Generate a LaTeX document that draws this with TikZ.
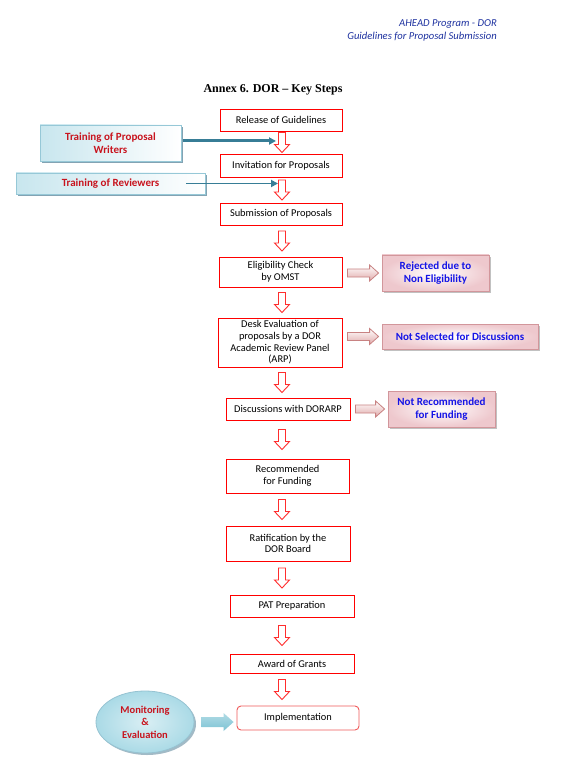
\documentclass[tikz,border=0pt]{standalone}
\usepackage{fontspec}
\setmainfont{Carlito}
\newfontfamily\titlefont{Liberation Serif}
\usetikzlibrary{calc,shapes.geometric,shadows,arrows.meta}

\begin{document}
\begin{tikzpicture}[x=1pt,y=-1pt,line join=miter,
    stepbox/.style={draw=boxred,line width=0.9pt,fill=white,inner sep=1pt,
      align=center,font=\fontsize{10.4}{11.6}\selectfont},
    trainbox/.style={draw=trainborder,line width=0.8pt,left color=trainfill,right color=white,
      drop shadow={shadow xshift=2pt,shadow yshift=-2pt,fill=trainshadow,opacity=0.8},
      inner sep=1pt,align=center,text=txtred,font=\fontsize{11}{13}\selectfont\bfseries},
    rejectbox/.style={draw=rejborder,line width=0.8pt,inner color=white,outer color=rejfill,
      drop shadow={shadow xshift=2pt,shadow yshift=-2pt,fill=gray!60,opacity=0.8},
      inner sep=1pt,align=center,text=txtblue,font=\fontsize{11}{13}\selectfont\bfseries},
    hollowarrow/.style={draw=arrowred,line width=0.9pt,fill=white},
    sidearrow/.style={draw=sidedark,line width=0.8pt,top color=white,bottom color=sidefill},
    feedarrow/.style={draw=feedteal,-{Triangle[length=7pt,width=7pt]}}]
  \definecolor{boxred}{RGB}{255,0,0}
  \definecolor{arrowred}{RGB}{255,45,45}
  \definecolor{implred}{RGB}{240,90,90}
  \definecolor{trainfill}{RGB}{200,230,238}
  \definecolor{trainborder}{RGB}{150,200,215}
  \definecolor{trainshadow}{RGB}{100,140,160}
  \definecolor{txtred}{RGB}{200,20,30}
  \definecolor{rejfill}{RGB}{238,200,205}
  \definecolor{rejborder}{RGB}{210,150,155}
  \definecolor{txtblue}{RGB}{20,20,230}
  \definecolor{feedteal}{RGB}{55,125,150}
  \definecolor{sidefill}{RGB}{225,170,170}
  \definecolor{sidedark}{RGB}{200,130,130}
  \definecolor{cyanarrow}{RGB}{125,195,212}
  \definecolor{ellfill}{RGB}{170,218,230}
  \definecolor{ellborder}{RGB}{150,195,210}
  \definecolor{hdrblue}{RGB}{30,50,160}

  % page
  \fill[white] (0,0) rectangle (562,775);
  \useasboundingbox (0,0) rectangle (562,775);

  % header and title
  \node[anchor=east,inner sep=0,text=hdrblue,font=\fontsize{10.6}{12}\selectfont\itshape] (hdra) at (497,24) {AHEAD Program - DOR};
  \node[anchor=east,inner sep=0,text=hdrblue,font=\fontsize{10.6}{12}\selectfont\itshape] (hdrb) at (497,37) {Guidelines for Proposal Submission};
  \node[inner sep=0,font=\titlefont\fontsize{12}{14}\selectfont\bfseries] (title) at (273,90) {Annex 6. DOR – Key Steps};

  % main steps
  \coordinate (axis) at (282,0);
  \node[stepbox,minimum width=122,minimum height=22] (rel) at (281,120) {Release of Guidelines};
  \node[stepbox,minimum width=122,minimum height=23] (inv) at (281,165.5) {Invitation for Proposals};
  \node[stepbox,minimum width=122,minimum height=22] (sub) at (281,214) {Submission of Proposals};
  \node[stepbox,minimum width=123,minimum height=30] (elig) at (280.5,272) {Eligibility Check\\by OMST};
  \node[stepbox,minimum width=124,minimum height=49] (desk) at (280,342.5) {Desk Evaluation of\\proposals by a DOR\\Academic Review Panel\\(ARP)};
  \node[stepbox,minimum width=124,minimum height=22] (disc) at (288,409) {Discussions with DORARP};
  \node[stepbox,minimum width=123,minimum height=34] (rec) at (287.5,476) {Recommended\\for Funding};
  \node[stepbox,minimum width=124,minimum height=35] (rat) at (288,543.5) {Ratification by the\\DOR Board};
  \node[stepbox,minimum width=124,minimum height=22] (pat) at (292,606) {PAT Preparation};
  \node[stepbox,minimum width=124,minimum height=19] (award) at (292,663.5) {Award of Grants};
  \node[stepbox,draw=implred,rounded corners=4pt,minimum width=122,minimum height=24] (impl) at (298,718) {Implementation};

  % training boxes (left)
  \node[trainbox,minimum width=141,minimum height=36] (writers) at (110.5,143) {Training of Proposal\\Writers};
  \node[trainbox,minimum width=189,minimum height=21] (rev) at (110.5,183.5) {Training of Reviewers};

  % outcome boxes (right)
  \node[rejectbox,minimum width=107,minimum height=36] (rej) at (435.5,273) {Rejected due to\\Non Eligibility};
  \node[rejectbox,minimum width=156,minimum height=25] (nsel) at (460,336.5) {Not Selected for Discussions};
  \node[rejectbox,minimum width=107,minimum height=36] (nrec) at (441.5,409) {Not Recommended\\for Funding};

  % monitoring ellipse
  \node[ellipse,draw=ellborder,line width=0.8pt,inner color=white!55!ellfill,outer color=ellfill,
    drop shadow={shadow xshift=2pt,shadow yshift=-2pt,fill=trainshadow,opacity=0.6},
    minimum width=98,minimum height=62,inner sep=0,align=center,text=txtred,
    font=\fontsize{10.5}{12.5}\selectfont\bfseries] (mon) at (145,722) {Monitoring\\\&\\Evaluation};

  % hollow down arrows
  \foreach \a/\b in {rel/inv,inv/sub,sub/elig,elig/desk,desk/disc,disc/rec,rec/rat,rat/pat,pat/award,award/impl}
    \draw[hollowarrow] let \p1=($(\a.south -| axis)!0.5!(\b.north -| axis)$) in
      (\x1-3.5pt,\y1+10pt) -- (\x1+3.5pt,\y1+10pt) -- (\x1+3.5pt,\y1-2pt) -- (\x1+7.5pt,\y1-2pt)
      -- (\x1,\y1-10pt) -- (\x1-7.5pt,\y1-2pt) -- (\x1-3.5pt,\y1-2pt) -- cycle;

  % arrows to the outcomes
  \foreach \a/\b in {elig/rej,desk/nsel,disc/nrec}
    \draw[sidearrow] let \p1=($(\a.east |- \b.west)+(5,0)$), \p2=($(\b.west)-(3,0)$) in
      (\x1,\y1+4pt) -- (\x2-9pt,\y1+4pt) -- (\x2-9pt,\y1+8pt) -- (\x2,\y1)
      -- (\x2-9pt,\y1-8pt) -- (\x2-9pt,\y1-4pt) -- (\x1,\y1-4pt) -- cycle;

  % monitoring arrow
  \shade[top color=cyanarrow!60,bottom color=cyanarrow] let \p1=($(mon.east)+(7,0)$), \p2=($(impl.west)-(3,0)$) in
    (\x1,\y1+5pt) -- (\x2-10pt,\y1+5pt) -- (\x2-10pt,\y1+9pt) -- (\x2,\y1)
    -- (\x2-10pt,\y1-9pt) -- (\x2-10pt,\y1-5pt) -- (\x1,\y1-5pt) -- cycle;

  % training feeds
  \draw[feedarrow,line width=3pt] ($(writers.east)+(2,-2)$) -- ($(writers.east -| axis)+(-6,-2)$);
  \draw[feedarrow,line width=1.8pt] ($(rev.east)+(-19,0)$) -- ($(rev.east -| axis)+(-4,0)$);
\end{tikzpicture}
\end{document}
